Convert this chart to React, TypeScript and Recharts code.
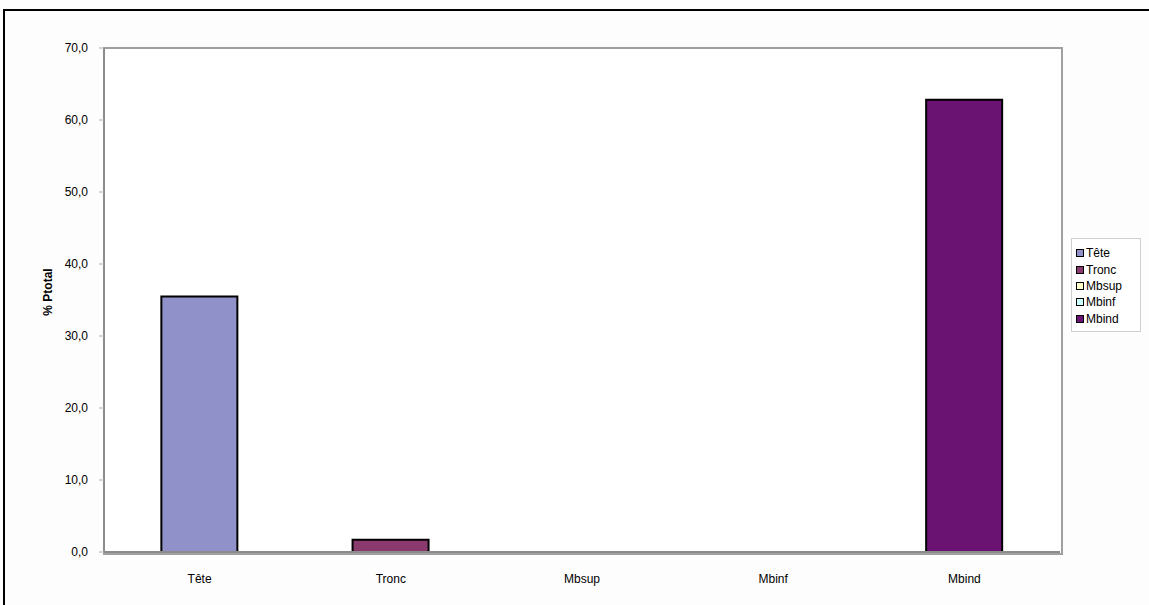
import { Bar, BarChart, Cell, XAxis, YAxis } from "recharts";

const categories = ["Tête", "Tronc", "Mbsup", "Mbinf", "Mbind"];
const values = [35.5, 1.7, 0, 0, 62.8];
const colors = ["#9191c9", "#8b3a6e", "#ffffcc", "#ccffff", "#6a1373"];
const yTicks = [0, 10, 20, 30, 40, 50, 60, 70];

const data = categories.map((name, i) => ({ name, value: values[i] }));

const font = "'Liberation Sans', Arial, sans-serif";

// plot area in the picture
const plot = { left: 104, top: 48, right: 1060, bottom: 552 };

function LegendBox() {
  return (
    <div
      style={{
        position: "absolute",
        left: 1071,
        top: 238,
        width: 60,
        border: "1px solid #cfcfcf",
        background: "#fff",
        padding: "6px 4px 4px 4px",
        fontFamily: font,
        fontSize: 12,
        color: "#000",
      }}
    >
      {categories.map((c, i) => (
        <div key={c} style={{ display: "flex", alignItems: "center", height: 16.4 }}>
          <span
            style={{
              display: "inline-block",
              width: 6,
              height: 6,
              border: "1.5px solid #000",
              background: colors[i],
              marginRight: 2,
            }}
          />
          {c}
        </div>
      ))}
    </div>
  );
}

export default function App() {
  return (
    <div
      style={{
        position: "absolute",
        left: 0,
        top: 0,
        width: 1149,
        height: 605,
        background: "#fdfdfd",
        overflow: "hidden",
      }}
    >
      <div
        style={{
          position: "absolute",
          left: 3,
          top: 9,
          width: 1160,
          height: 620,
          borderLeft: "2px solid #000",
          borderTop: "2px solid #000",
        }}
      />
      <div
        style={{
          position: "absolute",
          left: plot.left - 1,
          top: plot.top - 1,
          width: plot.right - plot.left,
          height: plot.bottom - plot.top,
          border: "2px solid #a0a0a0",
          background: "#fff",
        }}
      />
      <BarChart
        width={1149}
        height={605}
        data={data}
        margin={{ top: plot.top, right: 1149 - plot.right, bottom: 0, left: 0 }}
        barCategoryGap="30%"
        style={{ position: "absolute", left: 0, top: 0 }}
      >
        <XAxis
          dataKey="name"
          height={605 - plot.bottom}
          axisLine={{ stroke: "#8c8c8c", strokeWidth: 2 }}
          tickLine={false}
          tickMargin={16}
          tick={{ fontSize: 12, fill: "#000", fontFamily: font }}
        />
        <YAxis
          width={plot.left}
          domain={[0, 70]}
          ticks={yTicks}
          interval={0}
          tickSize={5}
          tickMargin={11}
          tickFormatter={(v: number) => v.toFixed(1).replace(".", ",")}
          axisLine={{ stroke: "#8c8c8c", strokeWidth: 2 }}
          tickLine={{ stroke: "#b0b0b0" }}
          tick={{ fontSize: 12, fill: "#000", fontFamily: font }}
          label={{
            content: () => (
              <text
                x={52}
                y={292}
                transform="rotate(-90 52 292)"
                textAnchor="middle"
                fontSize={12}
                fontWeight="bold"
                fontFamily={font}
                fill="#000"
              >
                % Ptotal
              </text>
            ),
          }}
        />
        <Bar dataKey="value" stroke="#000" strokeWidth={2} isAnimationActive={false}>
          {data.map((d, i) => (
            <Cell key={d.name} fill={colors[i]} />
          ))}
        </Bar>
      </BarChart>
      <LegendBox />
    </div>
  );
}
